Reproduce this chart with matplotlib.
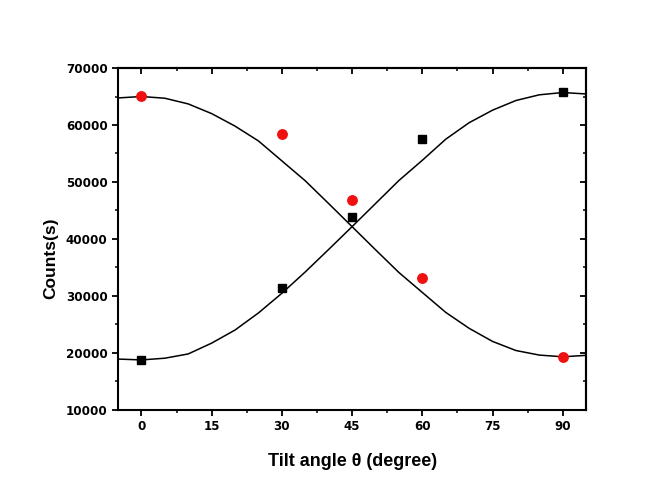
import numpy as np
import matplotlib
matplotlib.use("Agg")
import matplotlib.pyplot as plt
from matplotlib.ticker import MultipleLocator

# measured points
angles = [0, 30, 45, 60, 90]
counts_black = [18700, 31300, 43900, 57600, 65800]
counts_red = [65100, 58400, 46800, 33100, 19300]

# fit curves, every 5 degrees
fit_angles = [-5, 0, 5, 10, 15, 20, 25, 30, 35, 40, 45, 50, 55, 60, 65, 70, 75, 80, 85, 90, 95]
fit_black = [18900, 18750, 19050, 19800, 21700, 24000, 27000, 30450, 34200, 38150, 42150,
             46200, 50250, 53800, 57500, 60400, 62600, 64300, 65300, 65700, 65450]
fit_red = [64750, 65000, 64700, 63700, 62000, 59800, 57200, 53700, 50200, 46200, 42150,
           38100, 34100, 30600, 27100, 24300, 22000, 20400, 19600, 19300, 19550]

plt.rcParams["font.family"] = ["DejaVu Sans"]

fig = plt.figure(figsize=(6.52, 5.04), dpi=100)
ax = fig.add_axes([0.181, 0.187, 0.718, 0.678])

ax.plot(fit_angles, fit_black, color="black", lw=1.1, zorder=2)
ax.plot(fit_angles, fit_red, color="black", lw=1.1, zorder=2)
ax.plot(angles, counts_black, ls="none", marker="s", ms=5.8, color="black", zorder=3)
ax.plot(angles, counts_red, ls="none", marker="o", ms=6.8, color="#f01010", zorder=3)

ax.set_xlim(-5, 95)
ax.set_ylim(10000, 70000)
ax.xaxis.set_major_locator(MultipleLocator(15))
ax.xaxis.set_minor_locator(MultipleLocator(7.5))
ax.yaxis.set_major_locator(MultipleLocator(10000))
ax.yaxis.set_minor_locator(MultipleLocator(5000))

for sp in ax.spines.values():
    sp.set_linewidth(1.5)

ax.tick_params(which="major", direction="out", length=4.5, width=1.3,
               labelsize=8.6, pad=3)
ax.tick_params(which="minor", direction="out", length=2.5, width=1.1)
for lab in ax.get_xticklabels() + ax.get_yticklabels():
    lab.set_fontweight("bold")

# mirrored axes with inward ticks (Origin style)
top = ax.secondary_xaxis("top")
top.xaxis.set_major_locator(MultipleLocator(15))
top.xaxis.set_minor_locator(MultipleLocator(7.5))
top.tick_params(which="major", direction="in", length=4.5, width=1.3, labeltop=False)
top.tick_params(which="minor", direction="in", length=2.5, width=1.1)
top.spines["top"].set_linewidth(1.5)

right = ax.secondary_yaxis("right")
right.yaxis.set_major_locator(MultipleLocator(10000))
right.yaxis.set_minor_locator(MultipleLocator(5000))
right.tick_params(which="major", direction="in", length=4.5, width=1.3, labelright=False)
right.tick_params(which="minor", direction="in", length=2.5, width=1.1)
right.spines["right"].set_linewidth(1.5)

ax.set_xlabel("Tilt angle θ (degree)", fontsize=13, fontweight="bold",
              family=["Liberation Sans", "DejaVu Sans"], labelpad=14)
ax.set_ylabel("Counts(s)", fontsize=12.5, fontweight="bold",
              family=["Liberation Sans", "DejaVu Sans"])
ax.yaxis.set_label_coords(-0.128, 0.444)

fig.savefig("out.png", dpi=100)
